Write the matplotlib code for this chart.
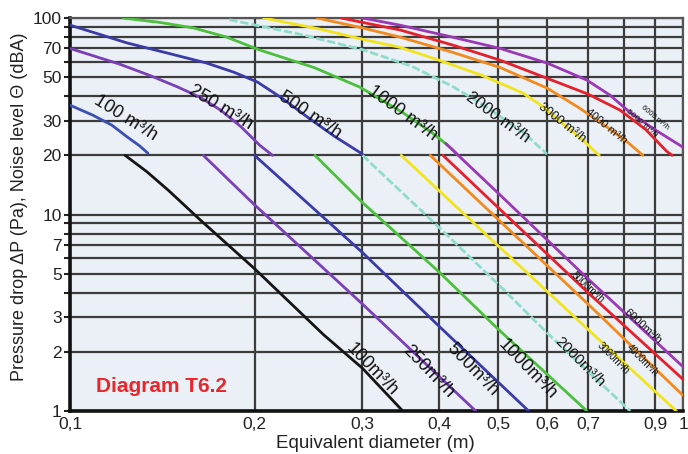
import matplotlib
matplotlib.use("Agg")
import matplotlib.pyplot as plt
from matplotlib.ticker import FixedLocator, NullLocator

plt.rcParams['font.family'] = ['Liberation Sans', 'DejaVu Sans']

# ---------------- data ----------------
flows = ["100", "250", "500", "1000", "2000", "3000", "4000", "5000", "6000"]
colors = ["#3c4fb3", "#7b3fb8", "#3a3aa8", "#4cbf3c", "#8fdccb",
          "#f1e41e", "#f28a1e", "#e5202c", "#9b38b5"]
lower_colors = ["#151515", "#7b3fb8", "#3a3aa8", "#4cbf3c", "#8fdccb",
                "#f1e41e", "#f28a1e", "#e5202c", "#9b38b5"]

# Noise level curves (upper set)
noise_x = [
    [0.100, 0.109, 0.117, 0.124, 0.130, 0.134],
    [0.100, 0.120, 0.135, 0.150, 0.163, 0.176, 0.190, 0.204, 0.214],
    [0.090, 0.100, 0.124, 0.145, 0.167, 0.185, 0.202, 0.222, 0.244, 0.270, 0.300],
    [0.122, 0.140, 0.159, 0.180, 0.204, 0.250, 0.297, 0.349, 0.390, 0.417, 0.430],
    [0.182, 0.240, 0.300, 0.360, 0.420, 0.460, 0.500, 0.550, 0.600],
    [0.207, 0.255, 0.305, 0.345, 0.400, 0.470, 0.548, 0.590, 0.635, 0.680, 0.730],
    [0.253, 0.300, 0.345, 0.420, 0.503, 0.600, 0.676, 0.750, 0.810, 0.860],
    [0.277, 0.310, 0.345, 0.420, 0.503, 0.614, 0.700, 0.789, 0.870, 0.940, 0.960],
    [0.300, 0.345, 0.420, 0.503, 0.600, 0.697, 0.760, 0.820, 0.900, 1.000],
]
noise_y = [
    [36, 32, 28.5, 24.8, 22.3, 20.5],
    [70, 58.5, 51, 44.5, 39.5, 34, 28, 22.5, 20],
    [100, 92, 74.6, 66, 59, 53, 47.3, 39, 31.3, 25, 20.3],
    [100, 95, 89, 80, 68.7, 56, 44.5, 33, 26, 22, 20],
    [98, 82, 69, 57, 45, 38, 32, 26, 20.3],
    [100, 88, 77, 71, 61, 51, 41.5, 35.5, 29.2, 24.5, 20],
    [100, 89, 80, 67, 56, 44, 35, 28, 23.5, 20],
    [100, 93, 87, 73, 61, 48, 41, 34, 27, 21, 20],
    [100, 92, 80, 70, 59, 48.3, 40.5, 33, 27, 22],
]

# Pressure drop curves (lower set)
dp_x = [
    [0.123, 0.1335, 0.145, 0.163, 0.200, 0.259, 0.300, 0.349],
    [0.165, 0.200, 0.300, 0.459],
    [0.200, 0.300, 0.400, 0.560],
    [0.251, 0.300, 0.400, 0.500, 0.697],
    [0.300, 0.400, 0.500, 0.600, 0.820],
    [0.347, 0.500, 0.700, 0.975],
    [0.387, 0.500, 0.700, 1.000],
    [0.406, 0.500, 0.700, 1.000],
    [0.410, 0.500, 0.700, 1.000],
]
dp_y = [
    [20, 16.5, 13.2, 9.4, 5.3, 2.45, 1.65, 1.0],
    [20, 11.2, 3.5, 1.0],
    [20, 6.4, 2.7, 1.0],
    [20, 11.5, 5.1, 2.6, 1.0],
    [20, 8.6, 4.4, 2.5, 1.0],
    [20, 6.9, 2.6, 1.0],
    [20, 9.4, 3.5, 1.2],
    [20, 10.8, 4.0, 1.45],
    [23, 12.8, 4.7, 1.68],
]

x_ticks = [0.1, 0.2, 0.3, 0.4, 0.5, 0.6, 0.7, 0.8, 0.9, 1.0]
x_ticklabels = ["0,1", "0,2", "0,3", "0,4", "0,5", "0,6", "0,7", "", "0,9", "1"]
y_ticks = [1, 2, 3, 4, 5, 6, 7, 8, 9, 10, 20, 30, 40, 50, 60, 70, 80, 90, 100]
y_ticklabels = ["1", "2", "3", "", "5", "", "7", "", "", "10",
                "20", "30", "", "50", "", "70", "", "", "100"]

# label placement (upper labels, lower labels)
up_lab_x = [0.123, 0.176, 0.246, 0.349, 0.499, 0.635, 0.751, 0.857, 0.900]
up_lab_y = [31.0, 34.9, 32.0, 32.9, 31.3, 29.2, 28.0, 29.0, 31.0]
up_lab_size = [13, 13, 13, 13, 12, 9, 8, 6, 5.5]
up_lab_rot = [-32, -31, -34, -36, -36, -38, -39, -40, -40]

lo_lab_x = [0.311, 0.384, 0.453, 0.557, 0.679, 0.769, 0.860, 0.700, 0.860]
lo_lab_y = [1.62, 1.58, 1.62, 1.62, 1.78, 1.86, 1.82, 4.23, 2.68]
lo_lab_size = [13, 13, 13, 13, 11, 7, 7, 7, 8]
lo_lab_rot = [-46, -46, -46, -46, -45, -45, -45, -42, -42]

# ---------------- figure ----------------
fig = plt.figure(figsize=(6.88, 4.54), dpi=100)
ax = fig.add_axes([70 / 688, 1 - 411 / 454, 613 / 688, 393 / 454])
ax.set_facecolor("#eaf0f5")
ax.set_xscale("log")
ax.set_yscale("log")
ax.set_xlim(0.1, 1.0)
ax.set_ylim(1, 100)

ax.xaxis.set_major_locator(FixedLocator(x_ticks))
ax.xaxis.set_minor_locator(NullLocator())
ax.set_xticklabels(x_ticklabels)
ax.yaxis.set_major_locator(FixedLocator(y_ticks))
ax.yaxis.set_minor_locator(NullLocator())
ax.set_yticklabels(y_ticklabels)
ax.tick_params(axis="both", labelsize=12.5, colors="#222222", length=4, width=1.5)
ax.tick_params(axis="x", length=0, pad=4)
ax.tick_params(axis="y", pad=2)

ax.grid(True, which="major", color="#3c3c3c", lw=1.6, zorder=1)
ax.set_axisbelow(True)
for s in ["top", "right"]:
    ax.spines[s].set_color("#555555")
    ax.spines[s].set_linewidth(1.6)
for s in ["left", "bottom"]:
    ax.spines[s].set_color("#111111")
    ax.spines[s].set_linewidth(2.6)

for i in range(len(flows)):
    ls = (0, (3, 1)) if i == 4 else "-"
    ax.plot(noise_x[i], noise_y[i], color=colors[i], lw=2.0, ls=ls,
            solid_capstyle="round", solid_joinstyle="round", zorder=3)
    ax.plot(dp_x[i], dp_y[i], color=lower_colors[i], lw=2.0, ls=ls,
            solid_capstyle="round", solid_joinstyle="round", zorder=3)

for i in range(len(flows)):
    ax.text(up_lab_x[i], up_lab_y[i], flows[i] + " m³/h", fontsize=up_lab_size[i],
            rotation=up_lab_rot[i], rotation_mode="anchor", ha="center", va="center",
            color="#111111", zorder=5)
    ax.text(lo_lab_x[i], lo_lab_y[i], flows[i] + "m³/h", fontsize=lo_lab_size[i],
            rotation=lo_lab_rot[i], rotation_mode="anchor", ha="center", va="center",
            color="#111111", zorder=5)

fig.text(161 / 688, 1 - 386 / 454, "Diagram T6.2", color="#e8262c", fontsize=15,
         fontweight="bold", ha="center", va="center")

fig.text(375 / 688, 1 - 443 / 454, "Equivalent diameter (m)", fontsize=13.5,
         ha="center", va="center", color="#222222")
fig.text(20 / 688, 1 - 207 / 454, "Pressure drop ΔP (Pa), Noise level Θ (dBA)",
         rotation=90, fontsize=13, ha="center", va="center", color="#222222")

fig.savefig("out.png", dpi=100)
